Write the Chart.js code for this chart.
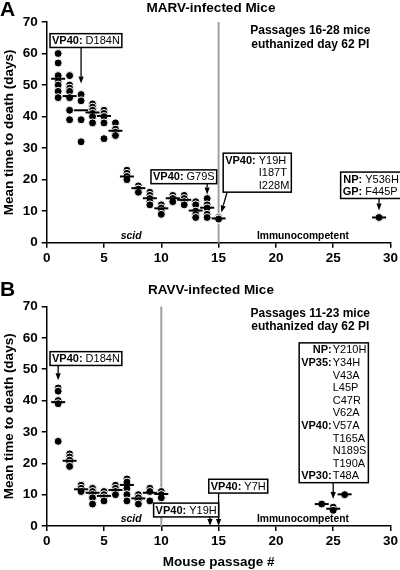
<!DOCTYPE html>
<html>
<head>
<meta charset="utf-8">
<script src="https://cdn.jsdelivr.net/npm/chart.js@4/dist/chart.umd.min.js"></script>
<style>
  html, body { margin: 0; padding: 0; background: #fff; }
  #wrap { position: relative; width: 400px; height: 570px; }
  .panel { position: absolute; left: 0; width: 400px; }
  #panelA { top: 0; height: 280px; }
  #panelB { top: 280px; height: 290px; }
</style>
</head>
<body>
<div id="wrap">
  <div class="panel" id="panelA"><canvas id="chartA"></canvas></div>
  <div class="panel" id="panelB"><canvas id="chartB"></canvas></div>
</div>
<script>
var FONT = '"Liberation Sans", Arial, sans-serif';

// ticks shared by both panels
var xTicks = [0, 5, 10, 15, 20, 25, 30];
var yTicks = [0, 10, 20, 30, 40, 50, 60, 70];

// Panel A - MARV, days to death for each mouse, by passage
var passagesA = [1, 2, 3, 4, 5, 6, 7, 8, 9, 10, 11, 12, 13, 14, 15, 29];
var deathDaysA = [
  [60, 57, 53, 51, 50, 48, 46],
  [53, 50, 49, 48, 46, 42, 39],
  [47, 45, 39, 32],
  [44, 43, 42, 41, 40, 38],
  [42, 41, 40, 38, 33],
  [38, 36, 35, 34, 34],
  [23, 22, 21, 20],
  [18, 17, 17, 16],
  [16, 15, 14, 13, 12],
  [12, 11, 10, 9],
  [15, 14, 14, 13],
  [15, 14, 13, 12],
  [13, 12, 10, 9, 8],
  [14, 12, 11, 9, 8],
  [8, 7.5, 7.5],
  [8, 8]
];
var meansA = [52, 46.5, 42, 41.3, 40.2, 35.5, 21, 17.3, 14.1, 10.9, 14.1, 13.6, 10.2, 11.1, 7.7, 8];

// Panel B - RAVV
var passagesB = [1, 2, 3, 4, 5, 6, 7, 8, 9, 10, 24, 25, 26];
var deathDaysB = [
  [44, 43, 40, 39, 27],
  [23, 22, 21, 20, 19],
  [13, 12, 11, 11],
  [12, 11, 10, 9, 7],
  [11, 10, 9, 8],
  [13, 12, 11, 10],
  [15, 14, 12, 10, 8],
  [10, 9, 8, 7],
  [12, 11, 8],
  [11, 10, 9],
  [7],
  [6, 5],
  [10]
];
var meansB = [39.5, 20.8, 11.7, 10.6, 9.6, 11.5, 13.1, 8.8, 10.6, 10.2, 7, 5.5, 10.1];

// mutation call-outs (positions in axis units)
var boxesA = [
  { x: 0.29, y: 66.3, gap: 3, lines: [['VP40:', 'D184N']], arrow: { x: 3, y: 50.5 } },
  { x: 9.1, y: 23.1, gap: 3, lines: [['VP40:', 'G79S']], arrow: { x: 14, y: 15.3 } },
  { x: 15.4, y: 28.4, gap: 3, lines: [['VP40:', 'Y19H'], ['', 'I187T'], ['', 'I228M']], arrow: { x0: 15.74, x: 15.24, y: 9.6 } },
  { x: 25.65, y: 22.4, gap: 3, lines: [['NP:', 'Y536H'], ['GP:', 'F445P']], arrow: { x: 29, y: 10.2 } }
];
var boxesB = [
  { x: 0.29, y: 55.6, gap: 3, lines: [['VP40:', 'D184N']], arrow: { x: 1, y: 46.5 } },
  { x: 9.33, y: 7.3, gap: 3, lines: [['VP40:', 'Y19H']], arrow: { x: 14.25, y: 0 } },
  { x: 14.14, y: 14.9, gap: 3, lines: [['VP40:', 'Y7H']], arrow: { x: 15, y: 0 } },
  { x: 22.03, y: 58.4, gap: 1, lines: [
      ['NP:', 'Y210H'], ['VP35:', 'Y34H'], ['', 'V43A'], ['', 'L45P'], ['', 'C47R'], ['', 'V62A'],
      ['VP40:', 'V57A'], ['', 'T165A'], ['', 'N189S'], ['', 'T190A'], ['VP30:', 'T48A']
    ], arrow: { x: 25, y: 8.6 } }
];

var notesA = [
  { text: 'Passages 16-28 mice', x: 23.0, y: 67.1, font: 'bold 12px ' + FONT },
  { text: 'euthanized day 62 PI', x: 23.0, y: 62.9, font: 'bold 12px ' + FONT },
  { text: 'scid', x: 7.37, y: 2.1, font: 'italic bold 10.5px ' + FONT },
  { text: 'Immunocompetent', x: 22.36, y: 2.1, font: 'bold 10.3px ' + FONT }
];
var notesB = [
  { text: 'Passages 11-23 mice', x: 23.0, y: 67.8, font: 'bold 12px ' + FONT },
  { text: 'euthanized day 62 PI', x: 23.0, y: 63.5, font: 'bold 12px ' + FONT },
  { text: 'scid', x: 7.37, y: 2.1, font: 'italic bold 10.5px ' + FONT },
  { text: 'Immunocompetent', x: 22.36, y: 2.1, font: 'bold 10.3px ' + FONT }
];

function toPoints(passages, values) {
  var pts = [];
  passages.forEach(function (p, i) {
    values[i].forEach(function (v) { pts.push({ x: p, y: v }); });
  });
  return pts;
}

function drawArrow(ctx, x0, y0, x1, y1) {
  var ang = Math.atan2(y1 - y0, x1 - x0), len = 7, half = 2.6;
  var bx = x1 - len * Math.cos(ang), by = y1 - len * Math.sin(ang);
  ctx.beginPath();
  ctx.moveTo(x0, y0);
  ctx.lineTo(bx, by);
  ctx.stroke();
  ctx.beginPath();
  ctx.moveTo(x1, y1);
  ctx.lineTo(bx + half * Math.sin(ang), by - half * Math.cos(ang));
  ctx.lineTo(bx - half * Math.sin(ang), by + half * Math.cos(ang));
  ctx.closePath();
  ctx.fill();
}

function drawBox(ctx, xs, ys, b) {
  var lh = 12.6, padX = 2, padY = 0.6;
  var boldF = 'bold 11px ' + FONT, normF = '11px ' + FONT;
  ctx.font = boldF;
  var lw = 0;
  b.lines.forEach(function (l) { lw = Math.max(lw, ctx.measureText(l[0]).width); });
  ctx.font = normF;
  var vw = 0;
  b.lines.forEach(function (l) { vw = Math.max(vw, ctx.measureText(l[1]).width); });
  var left = xs.getPixelForValue(b.x), top = ys.getPixelForValue(b.y);
  var w = padX * 2 + lw + b.gap + vw, h = padY * 2 + b.lines.length * lh;

  ctx.fillStyle = '#fff';
  ctx.fillRect(left, top, w, h);
  ctx.strokeStyle = '#000';
  ctx.lineWidth = 1.5;
  ctx.strokeRect(left, top, w, h);

  ctx.fillStyle = '#000';
  ctx.textBaseline = 'middle';
  b.lines.forEach(function (l, i) {
    var cy = top + padY + lh * (i + 0.5) + 0.5;
    ctx.font = boldF;
    ctx.textAlign = 'right';
    ctx.fillText(l[0], left + padX + lw, cy);
    ctx.font = normF;
    ctx.textAlign = 'left';
    ctx.fillText(l[1], left + padX + lw + b.gap, cy);
  });

  var a = b.arrow;
  ctx.lineWidth = 1.3;
  var ax0 = xs.getPixelForValue(a.x0 !== undefined ? a.x0 : a.x);
  drawArrow(ctx, ax0, top + h, xs.getPixelForValue(a.x), ys.getPixelForValue(a.y));
}

var panelDecor = {
  id: 'panelDecor',
  beforeDatasetsDraw: function (chart, args, opts) {
    var ctx = chart.ctx, area = chart.chartArea;
    var px = chart.scales.x.getPixelForValue(opts.divider);
    ctx.save();
    ctx.strokeStyle = '#a0a0a0';
    ctx.lineWidth = 2;
    ctx.beginPath();
    ctx.moveTo(px, area.top);
    ctx.lineTo(px, area.bottom);
    ctx.stroke();
    ctx.restore();
  },
  afterDraw: function (chart, args, opts) {
    var ctx = chart.ctx, xs = chart.scales.x, ys = chart.scales.y;
    ctx.save();
    ctx.fillStyle = '#000';
    ctx.textBaseline = 'top';
    ctx.textAlign = 'left';
    ctx.font = 'bold 21px ' + FONT;
    ctx.fillText(opts.letter, 0, 0);
    ctx.textAlign = 'center';
    ctx.textBaseline = 'middle';
    ctx.font = 'bold 13.5px ' + FONT;
    ctx.fillText(opts.title, 211, opts.titleY);

    opts.notes.forEach(function (n) {
      ctx.font = n.font;
      ctx.fillText(n.text, xs.getPixelForValue(n.x), ys.getPixelForValue(n.y));
    });
    opts.boxes.forEach(function (b) { drawBox(ctx, xs, ys, b); });
    ctx.restore();
  }
};

function makeChart(id, passages, values, means, decor, padTop, xHeight, xTitle) {
  return new Chart(document.getElementById(id), {
    type: 'scatter',
    data: {
      datasets: [{
        data: passages.map(function (p, i) { return { x: p, y: means[i] }; }),
        pointStyle: 'line',
        radius: 7,
        borderWidth: 2,
        borderColor: '#000',
        backgroundColor: '#000'
      }, {
        data: toPoints(passages, values),
        pointStyle: 'circle',
        radius: 4,
        borderWidth: 1,
        borderColor: '#fff',
        backgroundColor: '#000'
      }]
    },
    options: {
      responsive: true,
      maintainAspectRatio: false,
      devicePixelRatio: 1,
      animation: false,
      clip: false,
      layout: { padding: { top: padTop, right: 8.3, left: 0, bottom: 0 } },
      plugins: {
        legend: { display: false },
        tooltip: { enabled: false },
        panelDecor: decor
      },
      scales: {
        x: {
          type: 'linear',
          min: 0,
          max: 30,
          afterBuildTicks: function (s) { s.ticks = xTicks.map(function (v) { return { value: v }; }); },
          afterFit: function (s) { s.height = xHeight; },
          grid: { drawOnChartArea: false, color: '#000', lineWidth: 1.5, tickLength: 5 },
          border: { color: '#000', width: 1.5 },
          ticks: { color: '#000', padding: 2, font: { family: FONT, size: 13.5, weight: 'bold' } },
          title: {
            display: !!xTitle,
            text: xTitle || '',
            color: '#000',
            padding: 0,
            font: { family: FONT, size: 13.5, weight: 'bold' }
          }
        },
        y: {
          type: 'linear',
          min: 0,
          max: 70,
          afterBuildTicks: function (s) { s.ticks = yTicks.map(function (v) { return { value: v }; }); },
          afterFit: function (s) { s.width = 46.7; },
          grid: { drawOnChartArea: false, color: '#000', lineWidth: 1.5, tickLength: 5 },
          border: { color: '#000', width: 1.5 },
          ticks: { color: '#000', padding: 4, font: { family: FONT, size: 13.5, weight: 'bold' } },
          title: {
            display: true,
            text: 'Mean time to death (days)',
            color: '#000',
            padding: 1,
            font: { family: FONT, size: 13.5, weight: 'bold' }
          }
        }
      }
    },
    plugins: [panelDecor]
  });
}

makeChart('chartA', passagesA, deathDaysA, meansA,
  { divider: 15, letter: 'A', title: 'MARV-infected Mice', titleY: 8.5, notes: notesA, boxes: boxesA },
  22, 37.3, null);
makeChart('chartB', passagesB, deathDaysB, meansB,
  { divider: 10, letter: 'B', title: 'RAVV-infected Mice', titleY: 10, notes: notesB, boxes: boxesB },
  26.5, 44, 'Mouse passage #');
</script>
</body>
</html>
